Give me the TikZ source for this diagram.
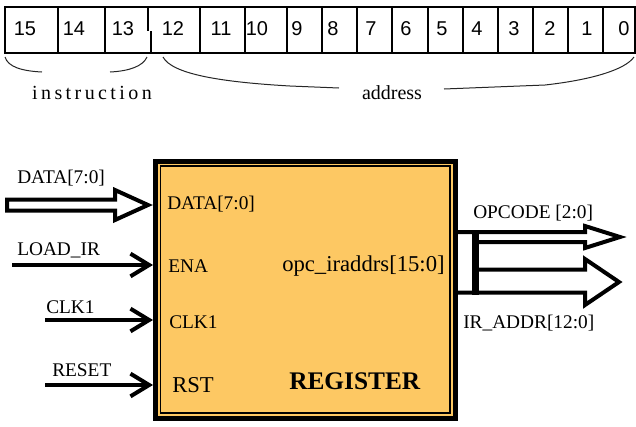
\documentclass[tikz,border=0pt]{standalone}
\usepackage{fontspec}
\setmainfont{Liberation Serif}
\newfontfamily\digitfont{Liberation Sans}
\usetikzlibrary{arrows.meta}
\definecolor{regfill}{RGB}{253,200,99}
\tikzset{
  cell/.style={line width=0.8pt},
  digit/.style={inner sep=0pt, anchor=base, font=\digitfont\fontsize{15}{17}\selectfont},
  brace/.style={line width=0.75pt, color=black!85},
  field/.style={inner sep=0pt, anchor=base, font=\fontsize{15}{18}\selectfont},
  lbl/.style={inner sep=0pt, anchor=base west, font=\fontsize{14.5}{17}\selectfont},
  sig/.style={line width=3pt, -{Straight Barb[length=14pt,width=17pt]}},
  busline/.style={line width=3pt, line join=miter, miter limit=12},
}
\begin{document}
\begin{tikzpicture}[x=0.75pt,y=0.75pt,yscale=-1,xscale=1]
\useasboundingbox (0,0) rectangle (636,426);

%bit cells
\draw[cell] (5,7) rectangle (635,53);
\foreach \xb in {58,105,200,245,287,322,357,392,428,463,498,533,568,603}
  \draw[cell] (\xb,7) -- (\xb,53);
\draw[cell] (148,7) -- (148,31) (151,31) -- (151,53);
\foreach \b/\xt in {15/25,14/74,13/123,12/173,11/221,10/257,9/297,8/333,7/371,6/406,5/442,4/477,3/514,2/550,1/587,0/624}
  \node[digit] (b\b) at (\xt,35) {\b};

%braces
\draw[brace] (5,57) .. controls (8,67) and (22,71) .. (42,72);
\draw[brace] (110,72) .. controls (130,71) and (143,66) .. (147,57);
\draw[brace] (163,57) .. controls (172,74) and (220,82) .. (290,86) -- (339,88);
\draw[brace] (444,89) -- (545,85) .. controls (590,80) and (625,70) .. (634,57);
\node[field] (instr) at (92,99) {\addfontfeature{LetterSpace=17}instruction};
\node[field] (addr) at (392,99) {address};

%register block
\node[draw, line width=3.75pt, fill=regfill, minimum width=225pt, minimum height=192.75pt, inner sep=0pt] (reg) at (305.5,290) {};
\draw[line width=0.8pt] (160.5,166) rectangle (450,413);
\node[lbl] (pdata) at (167,209) {DATA[7:0]};
\node[lbl] (pena) at (168,272) {ENA};
\node[lbl] (pclk) at (169,328) {CLK1};
\node[lbl, font=\fontsize{17}{20}\selectfont] (prst) at (172,392) {RST};
\node[lbl, font=\fontsize{17}{20}\selectfont] (pout) at (282,271) {opc\_iraddrs[15:0]};
\node[lbl, font=\bfseries\fontsize{19}{22}\selectfont] (title) at (289,389) {REGISTER};

%inputs
\node[lbl] (ndata) at (17,183) {DATA[7:0]};
\node[lbl] (nld) at (17,255) {LOAD\_IR};
\node[lbl] (nclk) at (46,313) {CLK1};
\node[lbl] (nrst) at (52,376) {RESET};
\draw[busline, fill=white] (7,199.5) -- (115,199.5) -- (115,190) -- (148,205) -- (115,220) -- (115,210.5) -- (7,210.5) -- cycle;
\coordinate (ldin) at (12,265);
\coordinate (clkin) at (45,320);
\coordinate (rstin) at (45,385);
\draw[sig] (ldin) -- (ldin -| reg.west);
\draw[sig] (clkin) -- (clkin -| reg.west);
\draw[sig] (rstin) -- (rstin -| reg.west);

%outputs
\node[lbl] (nopc) at (473,218) {OPCODE [2:0]};
\node[lbl] (nadr) at (463,328) {IR\_ADDR[12:0]};
\draw[busline] (reg.east |- 0,232) -- (585,232) -- (585,226) -- (620,237) -- (585,248) -- (585,242) -- (476,242);
\draw[busline] (476,269.5) -- (585,269.5) -- (585,259) -- (619,282) -- (585,305) -- (585,292.5) -- (reg.east |- 0,292.5);
\draw[line width=5pt] (475.5,230) -- (475.5,294.5);

\end{tikzpicture}
\end{document}
